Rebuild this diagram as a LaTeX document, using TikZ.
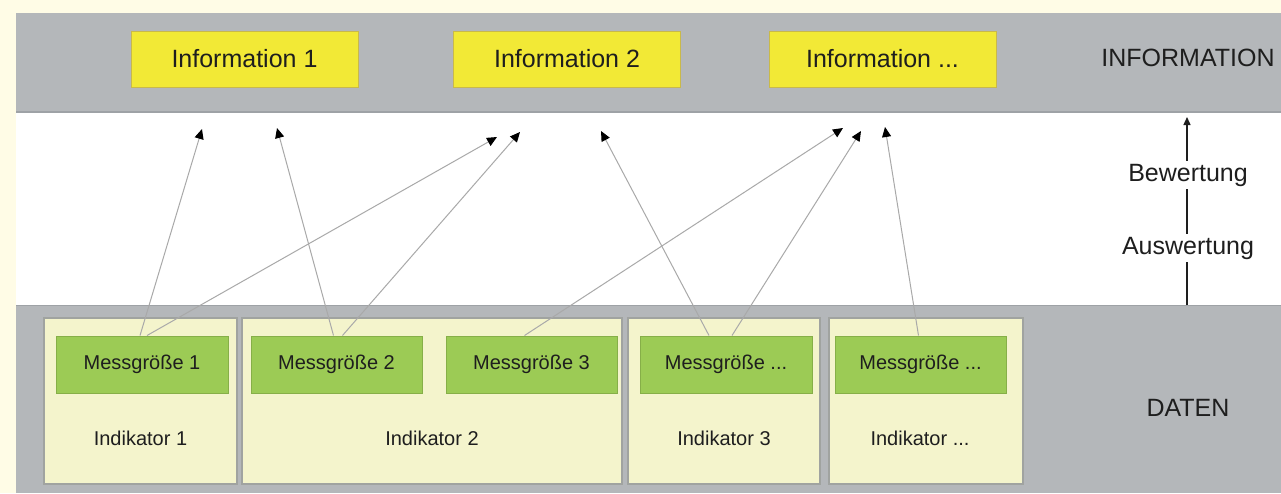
\documentclass[tikz,border=0pt]{standalone}
\usepackage{fontspec}
\setmainfont{Liberation Sans}
\usetikzlibrary{arrows.meta}

\definecolor{cream}{HTML}{FFFCE6}
\definecolor{bandgray}{HTML}{B4B7BA}
\definecolor{bandedge}{HTML}{9EA2A6}
\definecolor{infoyellow}{HTML}{F2E936}
\definecolor{infoedge}{HTML}{C9B94A}
\definecolor{mgreen}{HTML}{9CCB55}
\definecolor{mgreenedge}{HTML}{86AF48}
\definecolor{indfill}{HTML}{F4F4CC}
\definecolor{indedge}{HTML}{A0A3A0}
\definecolor{txt}{HTML}{1E1E1E}
\definecolor{linkgray}{HTML}{A9A9A9}

\tikzset{
  bigtext/.style={font=\fontsize{25}{30}\selectfont, text=txt},
  smalltext/.style={font=\fontsize{20}{24}\selectfont, text=txt},
  infobox/.style={bigtext, draw=infoedge, fill=infoyellow, line width=1pt,
    inner sep=0pt, minimum width=227pt, minimum height=56pt},
  indbox/.style={draw=indedge, fill=indfill, line width=1.2pt, inner sep=0pt,
    minimum height=166pt},
  mbox/.style={smalltext, draw=mgreenedge, fill=mgreen, line width=1pt,
    inner sep=0pt, minimum width=171pt, minimum height=57pt},
  link/.style={draw=linkgray, line width=1pt, -{Triangle[black,length=10pt,width=9pt]}},
  flow/.style={draw=txt, line width=1.3pt},
  label/.style={bigtext, inner sep=0pt}
}

\begin{document}
\begin{tikzpicture}[x=1pt,y=-1pt]
  % page and bands
  \fill[cream] (0,0) rectangle (1281,493);
  \useasboundingbox (0,0) rectangle (1281,493);
  \fill[bandgray] (16,13) rectangle (1281,112);
  \fill[white] (16,112) rectangle (1281,305);
  \fill[bandgray] (16,305) rectangle (1281,493);
  \draw[bandedge, line width=1.5pt] (16,112) -- (1281,112);
  \draw[bandedge, line width=1.5pt] (16,305.5) -- (1281,305.5);

  % information layer
  \node[infobox] (info1) at (244.5,59) {Information 1};
  \node[infobox] (info2) at (567,59) {Information 2};
  \node[infobox] (info3) at (882.5,59) {Information ...};
  \node[label] (infolabel) at (1188,58) {INFORMATION};

  % indicator frames
  \node[indbox, minimum width=193pt] (ind1) at (140.5,401) {};
  \node[indbox, minimum width=380pt] (ind2) at (432,401) {};
  \node[indbox, minimum width=192pt] (ind3) at (724,401) {};
  \node[indbox, minimum width=194pt] (ind4) at (926,401) {};
  \node[smalltext] (ind1t) at (140.5,438) {Indikator 1};
  \node[smalltext] (ind2t) at (432,438) {Indikator 2};
  \node[smalltext] (ind3t) at (724,438) {Indikator 3};
  \node[smalltext] (ind4t) at (920,438) {Indikator ...};

  % measured quantities
  \node[mbox, minimum width=172pt] (m1) at (142,364.5) {Messgröße 1};
  \node[mbox] (m2) at (336.5,364.5) {Messgröße 2};
  \node[mbox] (m3) at (531.5,364.5) {Messgröße 3};
  \node[mbox, minimum width=172pt] (m4) at (726,364.5) {Messgröße ...};
  \node[mbox] (m5) at (920.5,364.5) {Messgröße ...};

  \node[label] (daten) at (1188,408) {DATEN};

  % arrow tips below the information boxes
  \coordinate (t1a) at (202,129);
  \coordinate (t1b) at (277,128);
  \coordinate (t2a) at (497,137);
  \coordinate (t2b) at (520,132);
  \coordinate (t2c) at (601,131);
  \coordinate (t3a) at (843,128);
  \coordinate (t3b) at (861,131);
  \coordinate (t3c) at (885,127);

  % links from measured quantities to information
  \draw[link] ([xshift=-2pt]m1.north) -- (t1a);
  \draw[link] ([xshift=5pt]m1.north) -- (t2a);
  \draw[link] ([xshift=-3pt]m2.north) -- (t1b);
  \draw[link] ([xshift=6pt]m2.north) -- (t2b);
  \draw[link] ([xshift=-7pt]m3.north) -- (t3a);
  \draw[link] ([xshift=-17pt]m4.north) -- (t2c);
  \draw[link] ([xshift=6pt]m4.north) -- (t3b);
  \draw[link] ([xshift=-2pt]m5.north) -- (t3c);

  % processing direction on the right
  \node[label, inner ysep=3pt] (bew) at (1188,175) {Bewertung};
  \node[label, inner ysep=3pt] (ausw) at (1188,248) {Auswertung};
  \coordinate (flowbot) at (1187,305);
  \coordinate (flowtop) at (1187,117);
  \draw[flow] (flowbot) -- (flowbot |- ausw.south);
  \draw[flow] (flowbot |- ausw.north) -- (flowbot |- bew.south);
  \draw[flow, -{Triangle[length=8pt,width=7pt]}] (flowbot |- bew.north) -- (flowtop);
\end{tikzpicture}
\end{document}
